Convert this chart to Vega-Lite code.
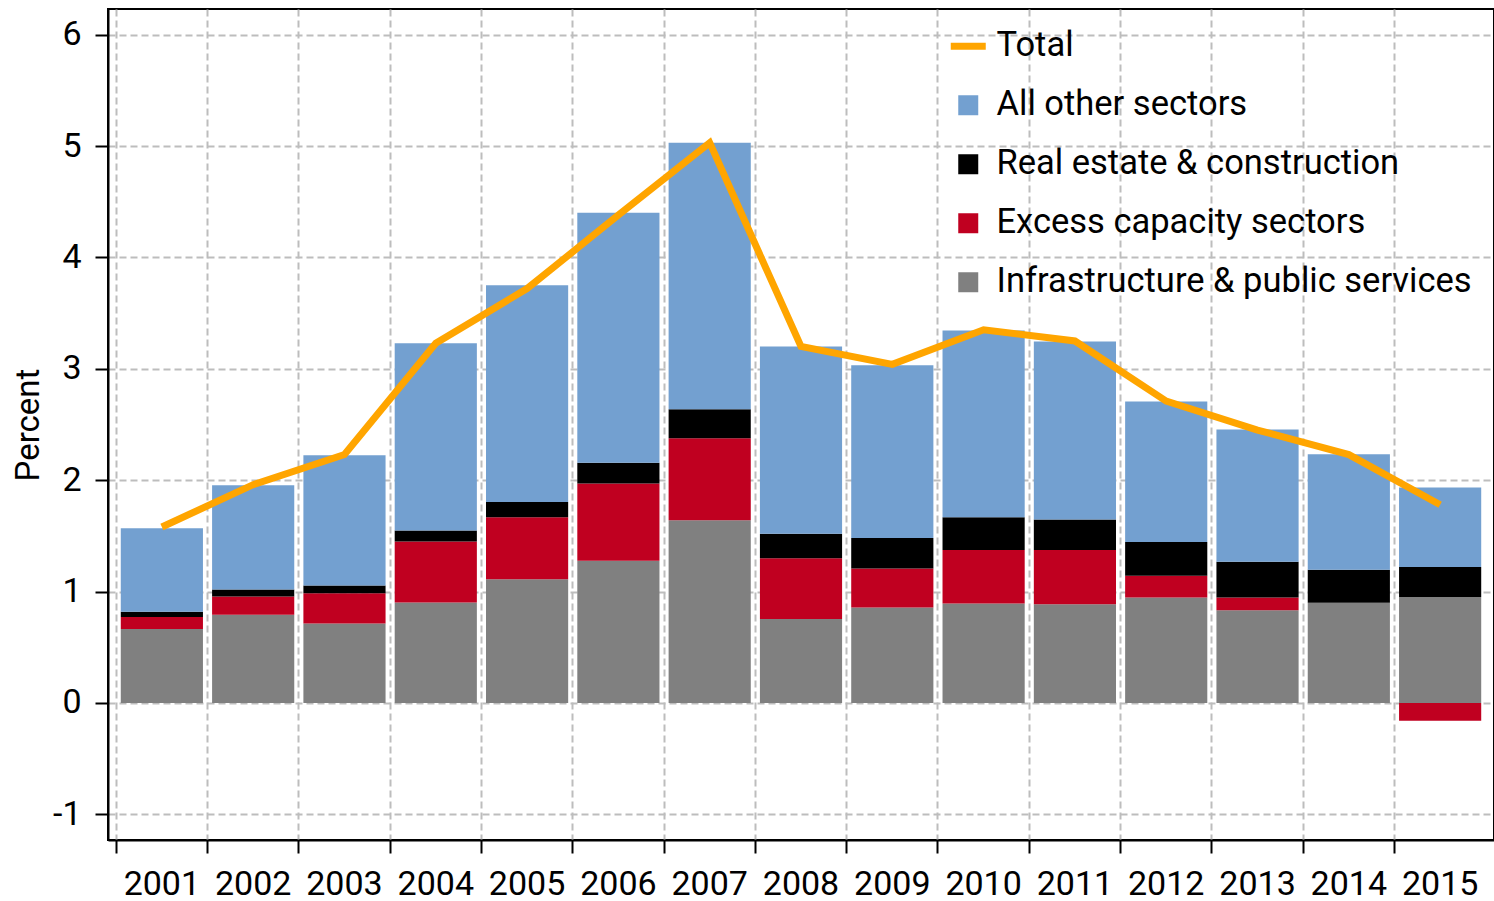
{
  "$schema": "https://vega.github.io/schema/vega-lite/v6.json",
  "width": 1386,
  "height": 831,
  "autosize": {"type": "none"},
  "padding": {"left": 108, "top": 9, "right": 0, "bottom": 61},
  "background": "#ffffff",
  "config": {
    "font": "Roboto",
    "view": {"stroke": "#000000", "strokeWidth": 2},
    "axis": {
      "labelFont": "Roboto", "labelFontSize": 34, "labelColor": "#000000",
      "titleFont": "Roboto", "titleFontSize": 33, "titleFontWeight": "normal", "titleColor": "#000000",
      "domainColor": "#000000", "domainWidth": 2,
      "tickColor": "#000000", "tickWidth": 2, "tickSize": 13,
      "gridColor": "#bdbdbd", "gridWidth": 2, "gridDash": [7, 4]
    },
    "legend": {
      "labelFont": "Roboto", "labelFontSize": 34.5, "labelColor": "#000000", "labelLimit": 0,
      "symbolSize": 1225, "padding": 0, "rowPadding": 24, "labelOffset": 11
    }
  },
  "datasets": {
    "sectors": [
      {"year": 2001, "sector": "Infrastructure & public services", "value": 0.665},
      {"year": 2001, "sector": "Excess capacity sectors", "value": 0.107},
      {"year": 2001, "sector": "Real estate & construction", "value": 0.048},
      {"year": 2001, "sector": "All other sectors", "value": 0.749},
      {"year": 2002, "sector": "Infrastructure & public services", "value": 0.793},
      {"year": 2002, "sector": "Excess capacity sectors", "value": 0.162},
      {"year": 2002, "sector": "Real estate & construction", "value": 0.063},
      {"year": 2002, "sector": "All other sectors", "value": 0.937},
      {"year": 2003, "sector": "Infrastructure & public services", "value": 0.713},
      {"year": 2003, "sector": "Excess capacity sectors", "value": 0.272},
      {"year": 2003, "sector": "Real estate & construction", "value": 0.069},
      {"year": 2003, "sector": "All other sectors", "value": 1.171},
      {"year": 2004, "sector": "Infrastructure & public services", "value": 0.901},
      {"year": 2004, "sector": "Excess capacity sectors", "value": 0.548},
      {"year": 2004, "sector": "Real estate & construction", "value": 0.099},
      {"year": 2004, "sector": "All other sectors", "value": 1.682},
      {"year": 2005, "sector": "Infrastructure & public services", "value": 1.111},
      {"year": 2005, "sector": "Excess capacity sectors", "value": 0.557},
      {"year": 2005, "sector": "Real estate & construction", "value": 0.137},
      {"year": 2005, "sector": "All other sectors", "value": 1.945},
      {"year": 2006, "sector": "Infrastructure & public services", "value": 1.277},
      {"year": 2006, "sector": "Excess capacity sectors", "value": 0.693},
      {"year": 2006, "sector": "Real estate & construction", "value": 0.187},
      {"year": 2006, "sector": "All other sectors", "value": 2.243},
      {"year": 2007, "sector": "Infrastructure & public services", "value": 1.64},
      {"year": 2007, "sector": "Excess capacity sectors", "value": 0.737},
      {"year": 2007, "sector": "Real estate & construction", "value": 0.26},
      {"year": 2007, "sector": "All other sectors", "value": 2.393},
      {"year": 2008, "sector": "Infrastructure & public services", "value": 0.753},
      {"year": 2008, "sector": "Excess capacity sectors", "value": 0.547},
      {"year": 2008, "sector": "Real estate & construction", "value": 0.22},
      {"year": 2008, "sector": "All other sectors", "value": 1.68},
      {"year": 2009, "sector": "Infrastructure & public services", "value": 0.857},
      {"year": 2009, "sector": "Excess capacity sectors", "value": 0.35},
      {"year": 2009, "sector": "Real estate & construction", "value": 0.273},
      {"year": 2009, "sector": "All other sectors", "value": 1.553},
      {"year": 2010, "sector": "Infrastructure & public services", "value": 0.893},
      {"year": 2010, "sector": "Excess capacity sectors", "value": 0.48},
      {"year": 2010, "sector": "Real estate & construction", "value": 0.294},
      {"year": 2010, "sector": "All other sectors", "value": 1.676},
      {"year": 2011, "sector": "Infrastructure & public services", "value": 0.887},
      {"year": 2011, "sector": "Excess capacity sectors", "value": 0.486},
      {"year": 2011, "sector": "Real estate & construction", "value": 0.275},
      {"year": 2011, "sector": "All other sectors", "value": 1.597},
      {"year": 2012, "sector": "Infrastructure & public services", "value": 0.946},
      {"year": 2012, "sector": "Excess capacity sectors", "value": 0.197},
      {"year": 2012, "sector": "Real estate & construction", "value": 0.302},
      {"year": 2012, "sector": "All other sectors", "value": 1.262},
      {"year": 2013, "sector": "Infrastructure & public services", "value": 0.833},
      {"year": 2013, "sector": "Excess capacity sectors", "value": 0.113},
      {"year": 2013, "sector": "Real estate & construction", "value": 0.323},
      {"year": 2013, "sector": "All other sectors", "value": 1.185},
      {"year": 2014, "sector": "Infrastructure & public services", "value": 0.899},
      {"year": 2014, "sector": "Excess capacity sectors", "value": 0.0},
      {"year": 2014, "sector": "Real estate & construction", "value": 0.298},
      {"year": 2014, "sector": "All other sectors", "value": 1.036},
      {"year": 2015, "sector": "Infrastructure & public services", "value": 0.952},
      {"year": 2015, "sector": "Excess capacity sectors", "value": -0.16},
      {"year": 2015, "sector": "Real estate & construction", "value": 0.269},
      {"year": 2015, "sector": "All other sectors", "value": 0.713}
    ],
    "totals": [
      {"year": 2001, "value": 1.58},
      {"year": 2002, "value": 1.96},
      {"year": 2003, "value": 2.23},
      {"year": 2004, "value": 3.23},
      {"year": 2005, "value": 3.72},
      {"year": 2006, "value": 4.38},
      {"year": 2007, "value": 5.03},
      {"year": 2008, "value": 3.2},
      {"year": 2009, "value": 3.04},
      {"year": 2010, "value": 3.35},
      {"year": 2011, "value": 3.25},
      {"year": 2012, "value": 2.71},
      {"year": 2013, "value": 2.45},
      {"year": 2014, "value": 2.23},
      {"year": 2015, "value": 1.78}
    ]
  },
  "layer": [
    {
      "data": {"name": "sectors"},
      "transform": [
        {"calculate": "indexof(['Infrastructure & public services', 'Excess capacity sectors', 'Real estate & construction', 'All other sectors'], datum.sector)", "as": "stack_rank"}
      ],
      "mark": {"type": "bar", "width": {"band": 0.9}},
      "encoding": {
        "x": {
          "field": "year", "type": "ordinal",
          "scale": {"paddingInner": 0, "paddingOuter": 0.09},
          "axis": {"title": null, "bandPosition": 0, "grid": true, "labelAngle": 0, "labelPadding": 14}
        },
        "y": {
          "field": "value", "type": "quantitative", "stack": "zero",
          "scale": {"domain": [-1.23, 6.23], "nice": false, "zero": false},
          "axis": {"title": "Percent", "values": [-1, 0, 1, 2, 3, 4, 5, 6], "labelExpr": "'' + datum.value", "grid": true, "labelPadding": 14, "titlePadding": 7}
        },
        "order": {"field": "stack_rank", "type": "quantitative", "sort": "ascending"},
        "color": {
          "field": "sector", "type": "nominal",
          "scale": {
            "domain": ["Total", "All other sectors", "Real estate & construction", "Excess capacity sectors", "Infrastructure & public services"],
            "range": ["#ffa500", "#73a0d0", "#000000", "#c00020", "#808080"]
          },
          "legend": {
            "title": null, "orient": "none", "legendX": 843, "legendY": 20,
            "encode": {
              "symbols": {
                "update": {
                  "shape": {"signal": "datum.value === 'Total' ? 'stroke' : 'square'"},
                  "size": {"signal": "datum.value === 'Total' ? 1225 : 400"},
                  "strokeWidth": {"signal": "datum.value === 'Total' ? 7 : 0"},
                  "stroke": {"scale": "color", "field": "value"},
                  "fill": {"scale": "color", "field": "value"},
                  "fillOpacity": {"value": 1},
                  "opacity": {"value": 1}
                }
              }
            }
          }
        }
      }
    },
    {
      "data": {"name": "totals"},
      "mark": {"type": "line", "strokeWidth": 7, "strokeJoin": "miter"},
      "encoding": {
        "x": {"field": "year", "type": "ordinal"},
        "y": {"field": "value", "type": "quantitative"},
        "color": {"datum": "Total"}
      }
    }
  ]
}
